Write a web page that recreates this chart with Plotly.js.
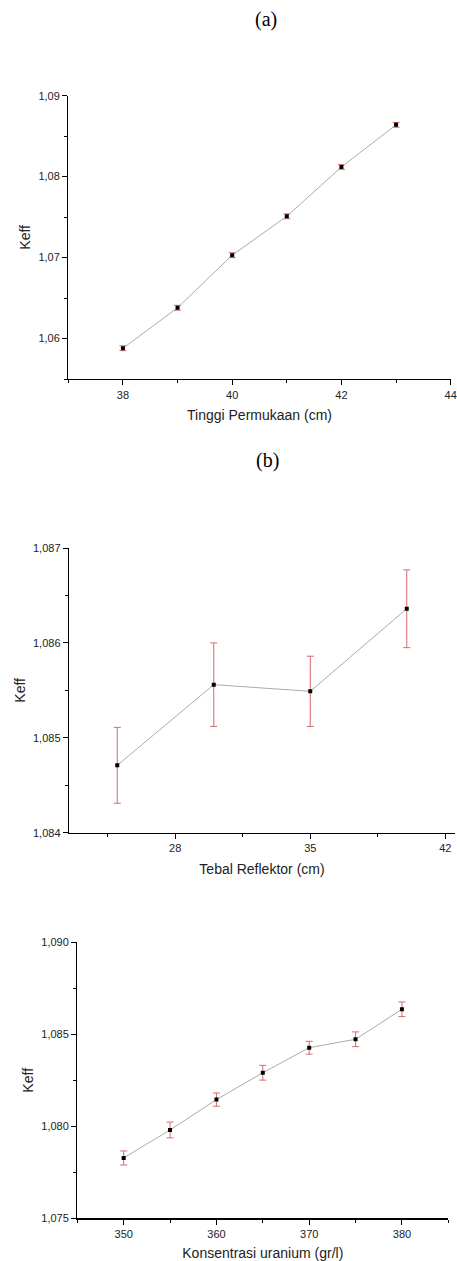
<!DOCTYPE html>
<html>
<head>
<meta charset="utf-8">
<script src="https://cdn.plot.ly/plotly-3.0.1.min.js"></script>
<style>
  html, body { margin: 0; padding: 0; background: #ffffff; }
  #chart { width: 457px; height: 1261px; }
</style>
</head>
<body>
<div id="chart"></div>
<script>
// ---- Data ----
// (a) Keff vs Tinggi Permukaan
const tinggiX   = [38, 39, 40, 41, 42, 43];
const tinggiK   = [1.0588, 1.0638, 1.0703, 1.0751, 1.0812, 1.0864];
const tinggiErr = [0.0003, 0.0003, 0.0003, 0.0003, 0.0003, 0.0003];

// (b) Keff vs Tebal Reflektor
const tebalX   = [25, 30, 35, 40];
const tebalK   = [1.08471, 1.08556, 1.08549, 1.08636];
const tebalErr = [0.00040, 0.00044, 0.00037, 0.00041];

// (c) Keff vs Konsentrasi uranium
const konsX   = [350, 355, 360, 365, 370, 375, 380];
const konsK   = [1.07828, 1.07980, 1.08145, 1.08291, 1.08427, 1.08473, 1.08636];
const konsErr = [0.00038, 0.00043, 0.00036, 0.00040, 0.00035, 0.00040, 0.00040];

const panelLabels = ['(a)', '(b)'];
const xTitles = ['Tinggi Permukaan (cm)', 'Tebal Reflektor (cm)', 'Konsentrasi uranium (gr/l)'];
const yTitle = 'Keff';

// ---- Styling ----
const lineColor = '#aaaaaa';
const errColor = '#d86a6a';
const sans = 'Arial, "Liberation Sans", sans-serif';
const tickFont = {family: sans, size: 11, color: '#222'};
const titleFont = {family: sans, size: 14, color: '#222'};

function series(x, y, err, xa, ya) {
  return {
    type: 'scatter', mode: 'lines+markers',
    x: x, y: y, xaxis: xa, yaxis: ya,
    line: {color: lineColor, width: 1},
    marker: {symbol: 'square', size: 4, color: '#000'},
    error_y: {type: 'data', array: err, visible: true, color: errColor, thickness: 1, width: 3.5},
    showlegend: false, hoverinfo: 'x+y'
  };
}

function axisBase(extra) {
  return Object.assign({
    showgrid: false, zeroline: false, showline: true,
    linecolor: '#000', linewidth: 1.3, mirror: false,
    ticks: 'outside', ticklen: 5, tickwidth: 1, tickcolor: '#000',
    tickfont: tickFont, automargin: false
  }, extra);
}

const data = [
  series(tinggiX, tinggiK, tinggiErr, 'x', 'y'),
  series(tebalX, tebalK, tebalErr, 'x2', 'y2'),
  series(konsX, konsK, konsErr, 'x3', 'y3')
];

const W = 457, H = 1261;
const px = v => v / W;
const py = v => 1 - v / H;

const layout = {
  width: W, height: H,
  margin: {l: 0, r: 0, t: 0, b: 0},
  paper_bgcolor: '#fff', plot_bgcolor: '#fff',
  separators: ',.',
  showlegend: false,
  // (a)
  xaxis: axisBase({
    domain: [px(68.3), px(450.7)], anchor: 'y',
    range: [37, 44], tick0: 38, dtick: 2,
    minor: {ticks: 'outside', ticklen: 3, dtick: 1, tick0: 37, tickcolor: '#000', showgrid: false},
    title: {text: xTitles[0], font: titleFont, standoff: 10}
  }),
  yaxis: axisBase({
    domain: [py(379), py(95.7)], anchor: 'x',
    range: [1.055, 1.09], tick0: 1.06, dtick: 0.01, tickformat: '.2f',
    minor: {ticks: 'outside', ticklen: 3, dtick: 0.005, tick0: 1.055, tickcolor: '#000', showgrid: false},
    title: {text: yTitle, font: titleFont, standoff: 4}
  }),
  // (b)
  xaxis2: axisBase({
    domain: [px(69), px(455)], anchor: 'y2',
    range: [22.5, 42.5], tick0: 28, dtick: 7,
    minor: {ticks: 'outside', ticklen: 3, dtick: 3.5, tick0: 24.5, tickcolor: '#000', showgrid: false},
    title: {text: xTitles[1], font: titleFont, standoff: 11}
  }),
  yaxis2: axisBase({
    domain: [py(832.7), py(548)], anchor: 'x2',
    range: [1.084, 1.087], tick0: 1.084, dtick: 0.001, tickformat: '.3f',
    minor: {ticks: 'outside', ticklen: 3, dtick: 0.0005, tick0: 1.0845, tickcolor: '#000', showgrid: false},
    title: {text: yTitle, font: titleFont, standoff: 4}
  }),
  // (c)
  xaxis3: axisBase({
    domain: [px(77.3), px(448.3)], anchor: 'y3',
    range: [345, 385], tick0: 350, dtick: 10,
    minor: {ticks: 'outside', ticklen: 3, dtick: 5, tick0: 345, tickcolor: '#000', showgrid: false},
    title: {text: xTitles[2], font: titleFont, standoff: 11}
  }),
  yaxis3: axisBase({
    domain: [py(1218.3), py(942.3)], anchor: 'x3',
    range: [1.075, 1.09], tick0: 1.075, dtick: 0.005, tickformat: '.3f',
    minor: {ticks: 'outside', ticklen: 3, dtick: 0.0025, tick0: 1.0775, tickcolor: '#000', showgrid: false},
    title: {text: yTitle, font: titleFont, standoff: 4}
  }),
  annotations: [
    {text: panelLabels[0], xref: 'paper', yref: 'paper', x: px(266), y: py(20),
     xanchor: 'center', yanchor: 'middle', showarrow: false,
     font: {family: '"Liberation Serif", "Times New Roman", serif', size: 20, color: '#000'}},
    {text: panelLabels[1], xref: 'paper', yref: 'paper', x: px(267), y: py(460),
     xanchor: 'center', yanchor: 'middle', showarrow: false,
     font: {family: '"Liberation Serif", "Times New Roman", serif', size: 20, color: '#000'}}
  ]
};

Plotly.newPlot('chart', data, layout, {displayModeBar: false, staticPlot: true});
</script>
</body>
</html>
